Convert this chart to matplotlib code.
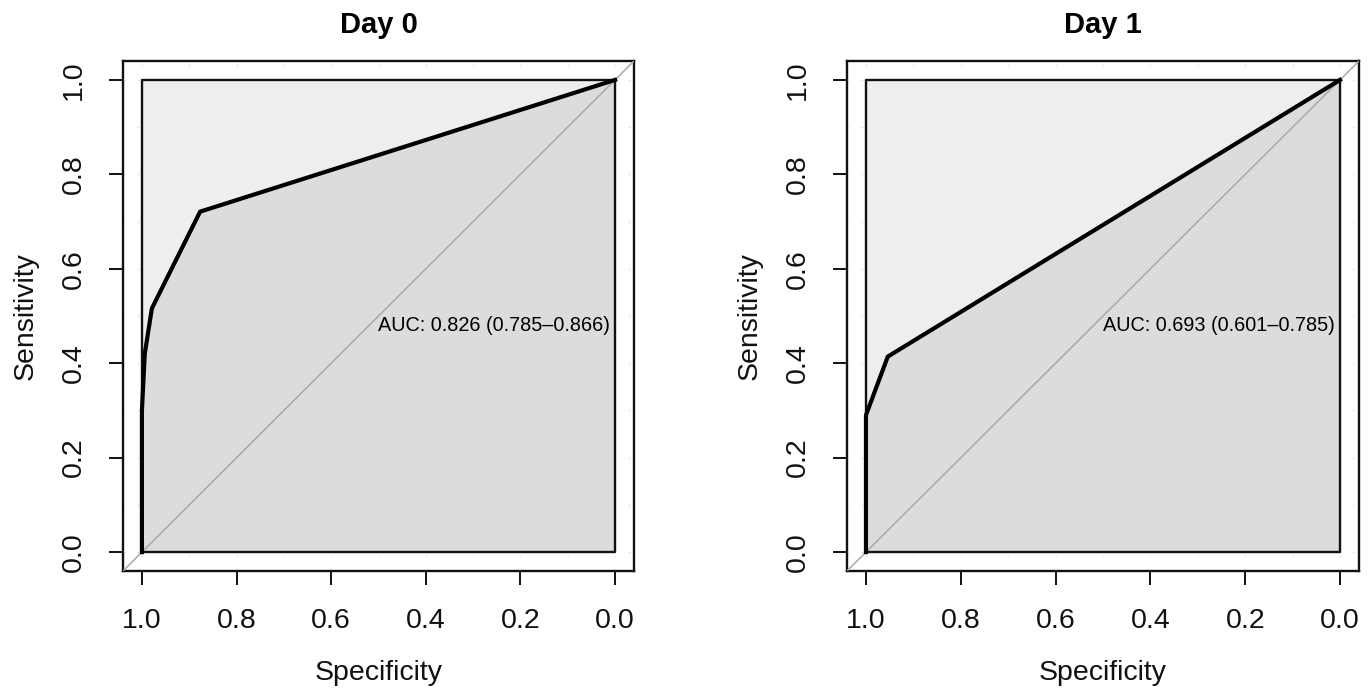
import matplotlib
matplotlib.use("Agg")
import matplotlib.pyplot as plt
import numpy as np

plt.rcParams['font.family'] = ['Liberation Sans', 'DejaVu Sans']

titles = ["Day 0", "Day 1"]
day0_spec = [1.0, 1.0, 0.994, 0.979, 0.877, 0.0]
day0_sens = [0.0, 0.30, 0.42, 0.516, 0.721, 1.0]
day1_spec = [1.0, 1.0, 0.954, 0.0]
day1_sens = [0.0, 0.29, 0.414, 1.0]
auc_texts = ["AUC: 0.826 (0.785\u20130.866)", "AUC: 0.693 (0.601\u20130.785)"]
ticks = [1.0, 0.8, 0.6, 0.4, 0.2, 0.0]
tick_labels = ["1.0", "0.8", "0.6", "0.4", "0.2", "0.0"]
yticks = [0.0, 0.2, 0.4, 0.6, 0.8, 1.0]
ytick_labels = ["0.0", "0.2", "0.4", "0.6", "0.8", "1.0"]
grid_vals = [i / 10 for i in range(11)]

fig = plt.figure(figsize=(13.71, 6.94), dpi=100)
positions = [[123/1371, 1-571/694, 511/1371, 510/694],
             [847/1371, 1-571/694, 512/1371, 510/694]]

curves = [(day0_spec, day0_sens), (day1_spec, day1_sens)]

for i, (pos, title, (spec, sens), txt) in enumerate(zip(positions, titles, curves, auc_texts)):
    ax = fig.add_axes(pos)
    ax.set_xlim(1.04, -0.04)
    ax.set_ylim(-0.04, 1.04)
    # grid
    for g in grid_vals:
        ax.axvline(g, color='#CFCFCF', lw=0.8, ls=(0, (1, 12)), zorder=0)
        ax.axhline(g, color='#CFCFCF', lw=0.8, ls=(0, (1, 12)), zorder=0)
    # max auc polygon
    ax.fill([1, 1, 0, 0], [0, 1, 1, 0], color='#EEEEEE', zorder=1)
    # auc polygon
    ax.fill(list(spec) + [0.0], list(sens) + [0.0], color='#DCDCDC', zorder=2)
    # rectangle border
    ax.plot([1, 1, 0, 0, 1], [0, 1, 1, 0, 0], color='#111111', lw=1.7, zorder=3)
    # diagonal
    ax.plot([1.1, -0.1], [-0.1, 1.1], color='#A9A9A9', lw=1.1, zorder=3)
    # curve
    ax.plot(spec, sens, color='black', lw=3.0, zorder=4, solid_joinstyle='round')
    ax.text(0.5, 0.5, txt, fontsize=14.3, ha='left', va='top', zorder=5)

    ax.set_xticks(ticks)
    ax.set_xticklabels(tick_labels)
    ax.set_yticks(yticks)
    ax.set_yticklabels(ytick_labels, rotation=90, va='center')
    ax.tick_params(axis='both', direction='out', length=10, width=1.4,
                   labelsize=20.5, colors='#111111')
    ax.tick_params(axis='x', pad=17)
    ax.tick_params(axis='y', pad=16)
    for s in ax.spines.values():
        s.set_linewidth(1.7)
        s.set_color('#111111')
    ax.set_xlabel("Specificity", fontsize=20.5, labelpad=18, color='#111111')
    ax.set_ylabel("Sensitivity", fontsize=20.5, labelpad=16, color='#111111')
    ax.set_title(title, fontsize=21, fontweight='bold', pad=20)

fig.savefig("out.png", dpi=100, facecolor='white')
